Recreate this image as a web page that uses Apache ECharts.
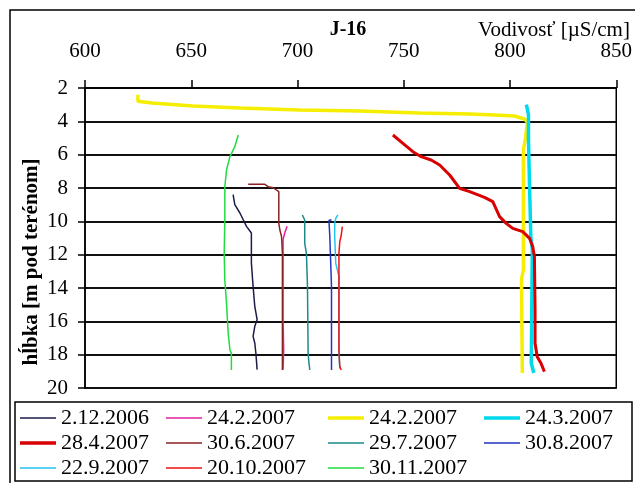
<!DOCTYPE html>
<html>
<head>
<meta charset="utf-8">
<script src="https://cdn.jsdelivr.net/npm/echarts@6/dist/echarts.min.js"></script>
<style>
  html, body { margin: 0; padding: 0; background: #fff; }
  #chart { width: 635px; height: 483px; }
</style>
</head>
<body>
<div id="chart"></div>
<script>
// conductivity [uS/cm] vs depth [m], one array of [vodivost, hlbka] per measurement
var xTicks = [600, 650, 700, 750, 800, 850];
var yTicks = [2, 4, 6, 8, 10, 12, 14, 16, 18, 20];

var s_2_12_2006 = [[669.7, 8.4], [670.5, 9.0], [672.9, 9.5], [676.0, 10.3], [678.3, 10.7], [678.3, 12.5],
  [679.1, 13.9], [679.9, 15.1], [681.0, 15.9], [679.9, 16.3], [679.1, 16.9], [679.9, 17.3], [680.4, 17.9], [681.0, 18.9]];
var s_24_2_2007a = [[695.1, 10.3], [694.0, 10.7], [693.2, 11.1], [693.2, 15.9], [693.5, 17.7], [693.2, 18.9]];
var s_24_2_2007b = [[624.9, 2.4], [624.9, 2.8], [631.5, 2.9], [650.8, 3.08], [672.8, 3.2], [701.0, 3.32],
  [729.2, 3.38], [757.4, 3.5], [781.0, 3.56], [792.7, 3.62], [802.0, 3.68], [806.8, 3.86], [808.2, 4.04],
  [807.2, 5.1], [806.3, 5.7], [806.3, 12.9], [805.4, 13.5], [805.8, 19.1]];
var s_24_3_2007 = [[807.7, 3.0], [808.7, 3.6], [808.7, 5.1], [809.2, 7.9], [809.8, 10.9], [810.5, 11.7],
  [810.1, 17.3], [810.0, 18.5], [811.2, 19.1]];
var s_28_4_2007 = [[744.9, 4.82], [749.6, 5.32], [754.3, 5.82], [758.2, 6.12], [762.9, 6.32], [766.9, 6.62],
  [771.6, 7.22], [776.3, 8.02], [781.0, 8.22], [788.0, 8.56], [791.9, 8.82], [795.1, 9.72], [798.2, 10.12],
  [801.3, 10.42], [806.0, 10.62], [809.2, 11.02], [810.7, 11.52], [811.5, 12.12], [811.8, 15.32],
  [811.8, 17.32], [812.8, 18.12], [814.6, 18.52], [816.2, 19.02]];
var s_30_6_2007 = [[676.8, 7.78], [684.6, 7.78], [686.2, 7.92], [688.5, 7.98], [690.1, 8.12], [691.2, 8.22],
  [691.2, 10.12], [691.7, 10.52], [692.5, 10.92], [692.9, 11.92], [692.9, 18.92]];
var s_29_7_2007 = [[702.3, 9.62], [703.4, 9.92], [703.4, 11.32], [704.2, 11.92], [704.7, 13.92], [705.0, 17.92],
  [705.4, 18.52], [705.8, 18.92]];
var s_30_8_2007 = [[716.0, 9.9], [714.8, 9.95], [715.2, 10.9], [716.0, 13.9], [716.0, 18.92]];
var s_22_9_2007 = [[719.0, 9.62], [718.0, 9.82], [717.5, 10.12], [717.5, 10.92], [718.0, 12.52], [719.5, 13.32],
  [719.5, 17.92], [719.9, 18.82]];
var s_20_10_2007 = [[721.1, 10.32], [720.6, 10.82], [719.9, 11.22], [719.5, 11.92], [719.5, 17.72],
  [719.9, 18.72], [720.6, 18.92]];
var s_30_11_2007 = [[672.1, 4.82], [670.5, 5.52], [668.2, 6.12], [666.6, 6.92], [665.8, 7.92], [665.8, 9.92],
  [665.5, 11.92], [665.8, 13.52], [666.6, 14.92], [667.4, 16.72], [668.2, 17.72], [668.9, 17.92], [668.9, 18.92]];

var serif = "Liberation Serif";
var chart = echarts.init(document.getElementById("chart"));

// legend line icons: a bar in the middle of a 36x14 box (tiny corner dots keep the box size)
var thinIcon = "path://M0,0H0.01V0.01H0Z M0,6.25H36V7.75H0Z M36,14H35.99V13.99H36Z";
var thickIcon = "path://M0,0H0.01V0.01H0Z M0,5.25H36V8.75H0Z M36,14H35.99V13.99H36Z";

function line(name, data, color, width) {
  return {
    name: name,
    type: "line",
    data: data,
    symbol: "none",
    animation: false,
    lineStyle: { color: color, width: width },
    itemStyle: { color: color }
  };
}

var series = [
  line("2.12.2006", s_2_12_2006, "#1c1c4a", 1.5),
  line("24.2.2007", s_24_2_2007a, "#e0209a", 1.5),
  line("24.2.2007 ", s_24_2_2007b, "#f5ee00", 3.5),
  line("24.3.2007", s_24_3_2007, "#00d8ec", 3.5),
  line("28.4.2007", s_28_4_2007, "#d80000", 3),
  line("30.6.2007", s_30_6_2007, "#8a2222", 1.5),
  line("29.7.2007", s_29_7_2007, "#1a8a8c", 1.5),
  line("30.8.2007", s_30_8_2007, "#2234c0", 1.5),
  line("22.9.2007", s_22_9_2007, "#20c4f0", 1.5),
  line("20.10.2007", s_20_10_2007, "#f01010", 1.5),
  line("30.11.2007", s_30_11_2007, "#20dc40", 1.5)
];

function legendCol(left, names) {
  return {
    orient: "vertical",
    left: left,
    top: 407,
    itemWidth: 36,
    itemHeight: 14,
    itemGap: 3,
    selectedMode: false,
    padding: 0,
    itemStyle: { borderWidth: 0 },
    data: names.map(function (n) {
      var thick = series.some(function (s) { return s.name === n && s.lineStyle.width > 2; });
      return { name: n, icon: thick ? thickIcon : thinIcon };
    }),
    formatter: function (n) { return n.trim(); },
    textStyle: { fontFamily: serif, fontSize: 22, color: "#000", lineHeight: 20 }
  };
}

var option = {
  backgroundColor: "#fff",
  animation: false,
  grid: {
    left: 85, right: 17, top: 88, bottom: 95,
    show: true, borderColor: "#000", borderWidth: 1.5
  },
  xAxis: {
    type: "value",
    position: "top",
    min: xTicks[0],
    max: xTicks[xTicks.length - 1],
    interval: 50,
    axisLine: { lineStyle: { color: "#000", width: 1.5 } },
    axisTick: { show: true, length: 8, lineStyle: { color: "#000", width: 1.5 } },
    axisLabel: { margin: 26, fontFamily: serif, fontSize: 21, color: "#000" },
    splitLine: { show: false }
  },
  yAxis: {
    type: "value",
    inverse: true,
    min: yTicks[0],
    max: yTicks[yTicks.length - 1],
    interval: 2,
    axisLine: { show: true, lineStyle: { color: "#000", width: 1.5 } },
    axisTick: { show: true, length: 7, lineStyle: { color: "#000", width: 1.5 } },
    axisLabel: { margin: 17, fontFamily: serif, fontSize: 21, color: "#000" },
    splitLine: { show: true, lineStyle: { color: "#111", width: 2 } }
  },
  legend: [
    legendCol(20, ["2.12.2006", "28.4.2007", "22.9.2007"]),
    legendCol(166, ["24.2.2007", "30.6.2007", "20.10.2007"]),
    legendCol(328, ["24.2.2007 ", "29.7.2007", "30.11.2007"]),
    legendCol(484, ["24.3.2007", "30.8.2007"])
  ],
  graphic: [
    { type: "rect", silent: true, z: -1, shape: { x: 10, y: 10, width: 640, height: 490 },
      style: { fill: "none", stroke: "#000", lineWidth: 1.5 } },
    { type: "rect", silent: true, z: -1, shape: { x: 15, y: 402, width: 617, height: 79 },
      style: { fill: "none", stroke: "#000", lineWidth: 1.5 } },
    { type: "text", x: 348, y: 30, silent: true,
      style: { text: "J-16", font: "bold 20px " + serif, fill: "#000", align: "center", verticalAlign: "middle" } },
    { type: "text", x: 478, y: 30, silent: true,
      style: { text: "Vodivosť [µS/cm]", font: "21px " + serif, fill: "#000", align: "left", verticalAlign: "middle" } },
    { type: "text", x: 32, y: 262, rotation: Math.PI / 2, silent: true,
      style: { text: "hĺbka [m pod terénom]", font: "bold 21px " + serif, fill: "#000", align: "center", verticalAlign: "middle" } }
  ],
  series: series
};

chart.setOption(option);
</script>
</body>
</html>
